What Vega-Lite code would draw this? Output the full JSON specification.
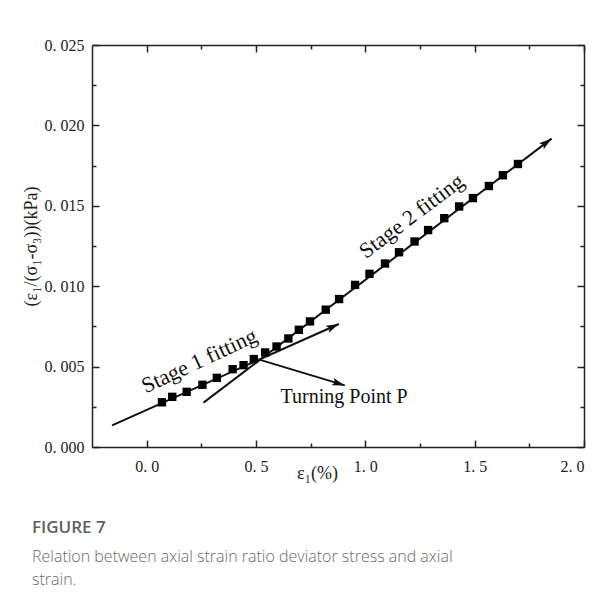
{
  "$schema": "https://vega.github.io/schema/vega-lite/v6.json",
  "width": 492,
  "height": 402,
  "autosize": "none",
  "padding": {"left": 92, "top": 45, "right": 27, "bottom": 158},
  "background": "white",
  "config": {
    "view": {"stroke": null},
    "axis": {
      "grid": false,
      "domainColor": "#222",
      "domainWidth": 1.5,
      "tickColor": "#222",
      "tickWidth": 1.5,
      "labelFont": "Liberation Serif",
      "labelFontSize": 16,
      "labelColor": "#222",
      "titleFont": "Liberation Serif",
      "titleFontSize": 18,
      "titleFontWeight": "normal",
      "titleColor": "#222"
    }
  },
  "title": {
    "text": "FIGURE 7",
    "subtitle": ["Relation between axial strain ratio deviator stress and axial", "strain."],
    "orient": "bottom",
    "anchor": "start",
    "frame": "group",
    "dx": -60,
    "offset": 38,
    "font": "Open Sans",
    "fontSize": 17,
    "fontWeight": 600,
    "color": "#5f5f5f",
    "subtitleFont": "Open Sans",
    "subtitleFontSize": 16,
    "subtitleFontWeight": 300,
    "subtitleColor": "#6a6a6a",
    "subtitleLineHeight": 23,
    "subtitlePadding": 12
  },
  "datasets": {
    "points": [
      {"strain": 0.070, "ratio": 0.00278},
      {"strain": 0.117, "ratio": 0.00312},
      {"strain": 0.183, "ratio": 0.00343},
      {"strain": 0.255, "ratio": 0.00387},
      {"strain": 0.321, "ratio": 0.00430},
      {"strain": 0.393, "ratio": 0.00484},
      {"strain": 0.443, "ratio": 0.00509},
      {"strain": 0.490, "ratio": 0.00547},
      {"strain": 0.542, "ratio": 0.00588},
      {"strain": 0.594, "ratio": 0.00625},
      {"strain": 0.648, "ratio": 0.00675},
      {"strain": 0.696, "ratio": 0.00729},
      {"strain": 0.747, "ratio": 0.00781},
      {"strain": 0.819, "ratio": 0.00854},
      {"strain": 0.880, "ratio": 0.00920},
      {"strain": 0.953, "ratio": 0.01008},
      {"strain": 1.019, "ratio": 0.01077},
      {"strain": 1.090, "ratio": 0.01141},
      {"strain": 1.154, "ratio": 0.01211},
      {"strain": 1.225, "ratio": 0.01278},
      {"strain": 1.287, "ratio": 0.01349},
      {"strain": 1.361, "ratio": 0.01423},
      {"strain": 1.429, "ratio": 0.01496},
      {"strain": 1.492, "ratio": 0.01548},
      {"strain": 1.565, "ratio": 0.01623},
      {"strain": 1.629, "ratio": 0.01690},
      {"strain": 1.698, "ratio": 0.01760}
    ],
    "lines": [
      {"line": "Stage 1", "end": "start", "strain": -0.158, "ratio": 0.00135},
      {"line": "Stage 1", "end": "tip", "strain": 0.879, "ratio": 0.00765},
      {"line": "Stage 2", "end": "start", "strain": 0.26, "ratio": 0.00276},
      {"line": "Stage 2", "end": "tip", "strain": 1.852, "ratio": 0.01918},
      {"line": "Turning", "end": "start", "strain": 0.519, "ratio": 0.00542},
      {"line": "Turning", "end": "tip", "strain": 0.906, "ratio": 0.00383}
    ],
    "labels": [
      {"key": "s1", "text": "Stage 1 fitting", "strain": 0.241, "ratio": 0.00536},
      {"key": "s2", "text": "Stage 2 fitting", "strain": 1.211, "ratio": 0.01436},
      {"key": "tp", "text": "Turning Point P", "strain": 0.903, "ratio": 0.00276}
    ]
  },
  "encoding": {
    "x": {"field": "strain", "type": "quantitative", "scale": {"domain": [-0.25, 2.0], "nice": false, "zero": false}, "axis": null},
    "y": {"field": "ratio", "type": "quantitative", "scale": {"domain": [0, 0.025], "nice": false, "zero": false}, "axis": null}
  },
  "resolve": {"axis": {"x": "independent", "y": "independent"}},
  "layer": [
    {
      "data": {"name": "lines"},
      "mark": {"type": "line", "color": "#111", "strokeWidth": 2},
      "encoding": {
        "detail": {"field": "line"},
        "x": {"field": "strain", "type": "quantitative", "scale": {"domain": [-0.25, 2.0], "nice": false, "zero": false},
          "axis": {"orient": "top", "values": [0, 0.25, 0.5, 0.75, 1.0, 1.25, 1.5, 1.75, 2.0], "labels": false, "title": null,
            "tickSize": {"condition": {"test": "round(datum.value/0.25) % 2 == 0", "value": -7}, "value": -4}}},
        "y": {"field": "ratio", "type": "quantitative", "scale": {"domain": [0, 0.025], "nice": false, "zero": false},
          "axis": {"orient": "right", "values": [0, 0.0025, 0.005, 0.0075, 0.01, 0.0125, 0.015, 0.0175, 0.02, 0.0225, 0.025], "labels": false, "title": null,
            "tickSize": {"condition": {"test": "round(datum.value/0.0025) % 2 == 0", "value": -7}, "value": -4}}}
      }
    },
    {
      "data": {"name": "lines"},
      "transform": [{"filter": "datum.line == 'Stage 1' && datum.end == 'tip'"}],
      "mark": {"type": "point", "shape": "M0,0 L-0.3,1 L0,0.8 L0.3,1 Z", "size": 650, "filled": true, "color": "#111", "opacity": 1, "angle": 66, "strokeWidth": 0}
    },
    {
      "data": {"name": "lines"},
      "transform": [{"filter": "datum.line == 'Stage 2' && datum.end == 'tip'"}],
      "mark": {"type": "point", "shape": "M0,0 L-0.3,1 L0,0.8 L0.3,1 Z", "size": 650, "filled": true, "color": "#111", "opacity": 1, "angle": 53, "strokeWidth": 0}
    },
    {
      "data": {"name": "lines"},
      "transform": [{"filter": "datum.line == 'Turning' && datum.end == 'tip'"}],
      "mark": {"type": "point", "shape": "M0,0 L-0.3,1 L0,0.8 L0.3,1 Z", "size": 650, "filled": true, "color": "#111", "opacity": 1, "angle": 107, "strokeWidth": 0}
    },
    {
      "data": {"name": "points"},
      "mark": {"type": "point", "shape": "square", "size": 70, "filled": true, "color": "#000", "opacity": 1},
      "encoding": {
        "x": {"field": "strain", "type": "quantitative", "scale": {"domain": [-0.25, 2.0], "nice": false, "zero": false},
          "axis": {"orient": "bottom", "values": [0, 0.25, 0.5, 0.75, 1.0, 1.25, 1.5, 1.75, 2.0],
            "labelExpr": "round(datum.value/0.25) % 2 == 0 ? replace(format(datum.value, '.1f'), '.', '. ') : ''",
            "labelPadding": 18,
            "tickSize": {"condition": {"test": "round(datum.value/0.25) % 2 == 0", "value": -7}, "value": -4},
            "title": "ε₁(%)", "titleX": 225, "titleY": 17}},
        "y": {"field": "ratio", "type": "quantitative", "scale": {"domain": [0, 0.025], "nice": false, "zero": false},
          "axis": {"orient": "left", "values": [0, 0.0025, 0.005, 0.0075, 0.01, 0.0125, 0.015, 0.0175, 0.02, 0.0225, 0.025],
            "labelExpr": "round(datum.value/0.0025) % 2 == 0 ? replace(format(datum.value, '.3f'), '.', '. ') : ''",
            "labelPadding": 15,
            "tickSize": {"condition": {"test": "round(datum.value/0.0025) % 2 == 0", "value": -7}, "value": -4},
            "title": "(ε₁/(σ₁-σ₃))(kPa)", "titlePadding": 4}}
      }
    },
    {
      "data": {"name": "labels"},
      "transform": [{"filter": "datum.key == 's1'"}],
      "mark": {"type": "text", "font": "Liberation Serif", "fontSize": 22, "color": "#111", "angle": -25, "align": "center", "baseline": "middle"},
      "encoding": {"text": {"field": "text"}}
    },
    {
      "data": {"name": "labels"},
      "transform": [{"filter": "datum.key == 's2'"}],
      "mark": {"type": "text", "font": "Liberation Serif", "fontSize": 22, "color": "#111", "angle": -37, "align": "center", "baseline": "middle"},
      "encoding": {"text": {"field": "text"}}
    },
    {
      "data": {"name": "labels"},
      "transform": [{"filter": "datum.key == 'tp'"}],
      "mark": {"type": "text", "font": "Liberation Serif", "fontSize": 20, "color": "#111", "align": "center", "baseline": "alphabetic"},
      "encoding": {"text": {"field": "text"}}
    }
  ]
}
